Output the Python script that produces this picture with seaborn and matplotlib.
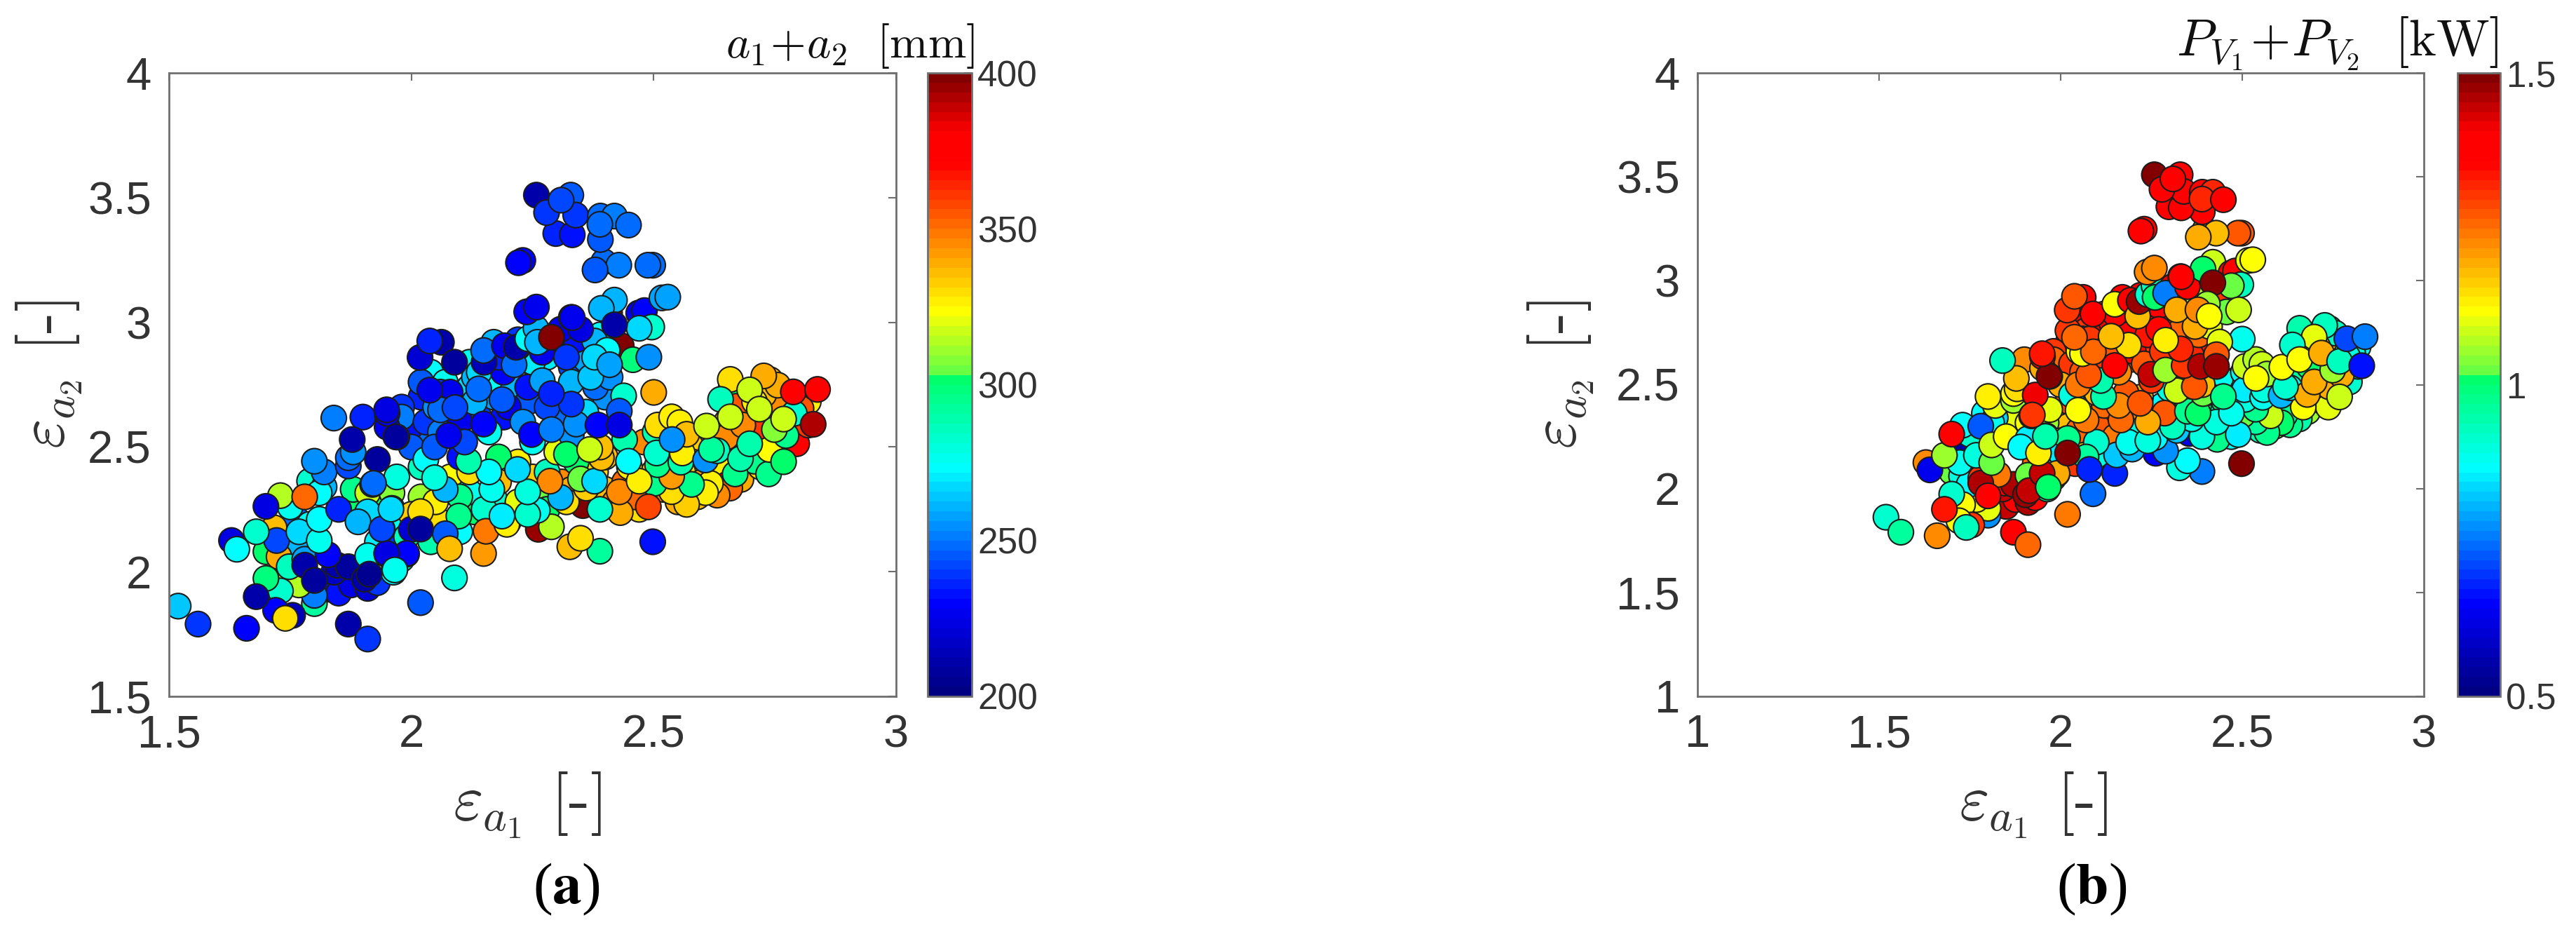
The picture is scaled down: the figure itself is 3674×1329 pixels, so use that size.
#!/usr/bin/env python3
import pandas as pd
import seaborn as sns
import matplotlib
matplotlib.use("Agg")
import matplotlib.pyplot as plt
from matplotlib.cm import ScalarMappable
from matplotlib.colors import LinearSegmentedColormap, Normalize

W, H = 3674, 1329

# same designs in both panels, drawn back to front
eps_a1 = [
    2.02, 2.04, 2.07, 2.09, 2.12, 2.14, 2.17, 2.19, 2.21, 2.24,
    2.26, 2.28, 2.31, 2.33, 2.35, 2.38, 2.40, 2.30, 2.27, 2.22,
    2.12, 2.17, 2.21, 2.02, 2.06, 2.13, 2.00, 2.04, 1.98, 2.09,
    1.98, 2.02, 2.06, 2.10, 2.13, 2.17, 2.20, 2.04, 2.08, 2.12,
    2.24, 2.27, 2.31, 2.36, 2.40, 2.44, 2.47, 2.52, 2.55, 2.59,
    2.64, 2.68, 2.72, 2.75, 2.78, 2.70, 2.65, 2.60, 2.58, 2.54,
    1.93, 1.96, 1.99, 1.98, 1.885, 1.76, 1.72, 1.76, 1.70, 1.79,
    1.88, 1.95, 2.02, 2.05, 2.10, 2.12, 2.15, 2.18, 2.22, 2.25,
    2.28, 2.33, 2.38, 2.42, 2.46, 2.50, 2.45, 2.53, 2.56, 2.60,
    2.63, 2.66, 2.62, 2.68, 2.72, 2.76, 2.70, 2.66, 2.74, 2.62,
    2.68, 2.72, 2.48, 2.44, 2.40, 2.34, 2.28, 2.30, 2.22, 2.18,
    1.98, 2.03, 2.00, 2.08, 2.05, 2.10, 2.13, 2.16, 2.20, 2.14,
    2.19, 2.24, 2.25, 2.23, 2.28, 2.33, 2.36, 2.38, 2.31, 2.27,
    2.36, 2.41, 2.37, 2.34, 2.39, 2.22, 2.18, 2.15, 2.10, 2.16,
    2.25, 2.33, 2.06, 1.90, 1.95, 2.03, 2.10,
    2.655, 2.657, 2.631, 2.617, 2.607, 2.568, 2.537, 2.578, 2.501, 2.537,
    2.508, 2.503, 2.506, 2.556, 2.559, 2.508, 2.537, 2.554, 2.568, 2.65,
    2.795, 2.819, 2.804, 2.819, 2.727, 2.658, 2.756, 2.67, 2.684, 2.727,
    2.79, 2.708, 2.737, 2.668, 2.739, 2.607, 2.631, 2.773, 2.708, 2.698,
    2.679, 2.619, 2.538, 2.609, 2.698, 2.638, 2.658, 2.749, 2.718, 2.768,
    2.768, 2.788, 2.838, 2.829,
    1.83, 1.85, 1.876, 1.91, 1.93, 1.84, 1.847, 1.87, 1.903, 1.80,
    1.80, 1.768, 1.727, 1.748, 1.78, 1.828, 1.73, 1.70, 1.78, 1.80,
    1.519, 1.56, 1.66, 1.87, 1.91, 1.755, 1.72, 1.74, 1.68, 1.629,
    1.64, 1.717, 1.722, 1.68, 1.75, 1.79, 1.82, 1.81, 1.73, 1.70,
    1.78, 1.768, 1.81, 1.81, 1.85, 1.82, 1.87, 1.87, 1.88, 1.80,
    1.878, 1.84, 1.91, 1.96, 1.91, 1.89, 1.96, 1.92, 1.94, 1.97,
    1.93, 1.97, 1.95, 1.91, 1.963, 1.95, 1.99, 2.0, 2.0, 1.913,
    2.019, 2.089, 2.149, 2.498, 2.389, 2.327, 2.349, 2.262, 2.289, 2.154,
    2.197, 2.187, 2.26, 2.24, 2.098, 2.019, 2.07, 2.079, 1.99, 1.949,
    1.939, 2.019, 1.958, 1.966, 2.431, 2.354, 2.32, 2.389, 2.489, 2.361,
    2.429, 2.47, 2.308, 2.286, 2.349, 2.378, 2.24, 2.166, 2.16, 2.07,
    2.219, 2.048, 1.922, 2.118, 2.392, 2.39, 2.32, 2.368, 2.448, 2.50,
    2.11, 2.048, 2.077, 2.248, 2.289, 2.34, 2.385, 2.438, 2.429, 2.429,
    2.27, 2.33, 2.187, 2.149, 2.06, 2.09, 2.038, 2.139, 2.289, 1.968,
    1.949, 2.062, 2.018, 2.038, 2.089, 2.149, 2.192, 2.212, 2.216, 2.24,
    2.257, 2.26, 2.308, 2.33, 2.289, 2.32, 2.378, 2.349, 2.433, 2.409,
    2.419, 2.392, 2.469, 2.481, 2.496, 2.47, 2.419, 2.457, 2.49, 2.404,
    2.378, 2.409, 2.238, 2.258, 2.332, 2.517, 2.529, 2.23, 2.221, 2.498,
    2.488, 2.397, 2.428, 2.379, 2.39, 2.298, 2.332, 2.258, 2.329, 2.339,
    2.279, 2.309, 2.39, 2.419, 2.389, 2.448,
]
eps_a2 = [
    2.70, 2.80, 2.76, 2.66, 2.74, 2.62, 2.70, 2.62, 2.74, 2.68,
    2.78, 2.86, 2.70, 2.82, 2.90, 2.82, 2.70, 2.60, 2.95, 2.93,
    2.84, 2.92, 2.84, 2.76, 2.72, 2.78, 2.56, 2.52, 2.66, 2.56,
    2.20, 2.30, 2.20, 2.16, 2.24, 2.30, 2.20, 2.12, 2.38, 2.32,
    2.24, 2.34, 2.36, 2.30, 2.33, 2.36, 2.25, 2.33, 2.28, 2.30,
    2.38, 2.42, 2.47, 2.52, 2.60, 2.62, 2.60, 2.50, 2.44, 2.56,
    2.12, 2.10, 2.14, 2.05, 2.27, 2.10, 1.98, 2.22, 2.08, 2.19,
    2.33, 2.30, 2.42, 2.28, 2.30, 2.40, 2.25, 2.36, 2.28, 2.38,
    2.25, 2.33, 2.40, 2.28, 2.30, 2.40, 2.42, 2.50, 2.40, 2.36,
    2.44, 2.50, 2.56, 2.66, 2.58, 2.66, 2.72, 2.74, 2.77, 2.34,
    2.37, 2.42, 2.52, 2.53, 2.46, 2.44, 2.40, 2.48, 2.44, 2.46,
    2.62, 2.60, 2.50, 2.72, 2.66, 2.60, 2.68, 2.76, 2.66, 2.80,
    2.80, 2.74, 2.84, 2.60, 2.66, 2.76, 2.64, 2.74, 2.95, 2.88,
    2.85, 2.78, 2.78, 2.93, 2.95, 2.90, 2.86, 2.84, 2.52, 2.56,
    2.52, 2.55, 2.56, 2.62, 2.58, 2.45, 2.46,
    2.354, 2.335, 2.307, 2.354, 2.317, 2.27, 2.321, 2.35, 2.354, 2.382,
    2.429, 2.56, 2.476, 2.439, 2.476, 2.588, 2.621, 2.598, 2.551, 2.54,
    2.513, 2.682, 2.654, 2.588, 2.71, 2.771, 2.748, 2.663, 2.588, 2.785,
    2.635, 2.443, 2.392, 2.392, 2.49, 2.448, 2.485, 2.546, 2.682, 2.729,
    2.453, 2.49, 2.53, 2.584, 2.513, 2.691, 2.621, 2.57, 2.652, 2.612,
    2.441, 2.721, 2.731, 2.591,
    1.93, 1.914, 1.947, 1.933, 1.956, 1.998, 2.026, 2.02, 1.97, 1.872,
    1.905, 1.947, 2.06, 2.02, 2.05, 2.068, 1.923, 1.973, 2.026, 1.965,
    1.862, 1.79, 1.773, 1.79, 1.73, 1.825, 1.845, 1.813, 1.90, 2.125,
    2.09, 2.176, 2.125, 2.16, 2.26, 2.363, 2.34, 2.316, 2.305, 2.262,
    2.30, 2.16, 2.125, 2.21, 2.25, 2.40, 2.424, 2.457, 2.48, 2.443,
    2.53, 2.616, 2.316, 2.316, 2.24, 2.20, 2.254, 2.35, 2.17, 2.38,
    2.45, 2.54, 2.635, 2.064, 1.998, 2.068, 2.07, 2.23, 2.17, 1.99,
    1.876, 1.975, 2.073, 2.12, 2.082, 2.10, 2.134, 2.17, 2.18, 2.162,
    2.19, 2.223, 2.246, 2.23, 2.223, 2.241, 2.152, 2.092, 2.073, 2.073,
    2.171, 2.171, 2.251, 2.007, 2.237, 2.265, 2.28, 2.25, 2.26, 2.335,
    2.32, 2.363, 2.298, 2.363, 2.372, 2.363, 2.32, 2.33, 2.40, 2.33,
    2.41, 2.377, 2.354, 2.443, 2.457, 2.50, 2.471, 2.49, 2.443, 2.719,
    2.52, 2.50, 2.546, 2.55, 2.57, 2.592, 2.588, 2.705, 2.644, 2.588,
    2.766, 2.672, 2.69, 2.592, 2.649, 2.658, 2.728, 2.733, 2.714, 2.541,
    2.649, 2.92, 2.859, 2.925, 2.84, 2.887, 2.906, 2.83, 2.90, 2.934,
    2.976, 2.92, 2.972, 3.02, 2.94, 2.86, 2.925, 2.972, 2.906, 3.037,
    3.089, 3.056, 3.037, 3.047, 2.981, 2.976, 2.99, 2.85, 2.86, 2.888,
    2.86, 2.83, 3.042, 3.061, 3.019, 3.098, 3.101, 3.248, 3.239, 3.229,
    3.229, 3.243, 3.229, 3.21, 3.332, 3.356, 3.351, 3.51, 3.51, 3.43,
    3.44, 3.49, 3.426, 3.426, 3.393, 3.39,
]
a_sum = [
    236, 272, 276, 250, 268, 238, 258, 232, 262, 244,
    250, 270, 232, 242, 275, 262, 255, 248, 228, 240,
    276, 260, 238, 245, 240, 262, 232, 248, 240, 225,
    278, 310, 330, 272, 300, 282, 334, 290, 322, 275,
    272, 305, 345, 320, 336, 352, 330, 345, 340, 335,
    350, 325, 310, 365, 370, 330, 340, 332, 325, 330,
    270, 240, 285, 285, 300, 262, 320, 248, 300, 275,
    296, 300, 285, 325, 295, 330, 282, 335, 320, 332,
    300, 340, 330, 345, 350, 336, 325, 322, 330, 342,
    325, 335, 345, 350, 360, 345, 328, 300, 336, 330,
    340, 330, 345, 290, 335, 300, 285, 320, 328, 300,
    250, 240, 245, 225, 255, 228, 262, 272, 225, 268,
    230, 232, 270, 255, 243, 262, 266, 248, 230, 226,
    258, 256, 265, 232, 272, 226, 235, 215, 272, 275,
    275, 255, 250, 235, 225, 273, 232,
    378, 350, 345, 325, 326, 332, 330, 295, 296, 342,
    294, 288, 283, 290, 326, 330, 328, 328, 335, 345,
    378, 328, 356, 360, 335, 330, 340, 355, 345, 338,
    283, 295, 294, 296, 322, 255, 285, 294, 328, 318,
    288, 291, 255, 317, 290, 285, 318, 307, 318, 318,
    300, 378, 378, 392,
    232, 232, 222, 220, 240, 218, 210, 207, 210, 293,
    252, 315, 338, 287, 258, 229, 282, 298, 210, 208,
    265, 240, 229, 212, 240, 215, 229, 330, 212, 224,
    272, 336, 243, 282, 275, 282, 262, 272, 314, 222,
    353, 266, 276, 273, 236, 252, 243, 248, 254, 256,
    212, 252, 318, 308, 268, 262, 266, 248, 245, 281,
    208, 213, 225, 278, 273, 226, 229, 332, 220, 206,
    244, 280, 342, 233, 293, 335, 329, 396, 314, 348,
    326, 270, 278, 283, 294, 331, 246, 335, 229, 224,
    243, 207, 267, 275, 340, 398, 330, 283, 358, 332,
    345, 328, 260, 346, 306, 268, 280, 277, 273, 262,
    266, 281, 248, 288, 335, 335, 300, 316, 274, 340,
    242, 244, 225, 229, 250, 255, 230, 283, 246, 224,
    258, 240, 246, 229, 248, 242, 228, 248, 235, 208,
    223, 212, 220, 235, 209, 248, 225, 247, 212, 272,
    262, 260, 228, 226, 398, 238, 260, 224, 398, 396,
    260, 262, 228, 230, 282, 266, 210, 298, 254, 272,
    268, 258, 230, 228, 226, 258, 257, 229, 229, 247,
    248, 248, 253, 246, 244, 236, 234, 210, 246, 238,
    240, 242, 248, 252, 248, 248,
]
p_sum = [
    1.30, 1.36, 1.30, 1.24, 1.34, 1.22, 1.40, 1.26, 1.38, 1.30,
    1.42, 1.36, 1.35, 1.30, 1.40, 1.28, 1.34, 1.26, 1.44, 1.42,
    1.30, 1.40, 1.36, 1.30, 1.28, 1.36, 1.16, 1.28, 1.30, 1.24,
    .92, 1.18, 1.15, .90, 1.22, 1.25, 1.05, 1.30, 1.12, 1.22,
    .85, .96, .90, .95, 1.0, .92, .88, 1.02, .95, 1.05,
    1.05, 1.0, 1.08, 1.10, .95, 1.15, 1.05, .92, .95, .90,
    1.25, 1.30, .95, 1.15, 1.12, 1.10, .96, 1.05, 1.02, 1.12,
    1.10, 1.22, 1.28, 1.25, 1.28, 1.25, 1.24, 1.22, .90, .95,
    .88, .90, .98, .98, .92, .96, 1.0, .92, 1.0, 1.02,
    1.05, .95, 1.08, 1.10, 1.12, .94, .96, .94, .92, .98,
    1.05, 1.12, .90, .88, 1.0, .95, .86, .90, 1.2, 1.28,
    1.26, 1.30, 1.20, 1.30, 1.12, 1.30, 1.28, 1.32, 1.35, 1.35,
    1.38, 1.33, 1.40, 1.28, 1.30, 1.25, 1.32, 1.25, 1.40, 1.38,
    1.28, 1.10, 1.20, 1.42, 1.05, 1.40, 1.42, 1.38, 1.25, 1.22,
    1.30, 1.22, 1.28, 1.22, 1.20, .90, 1.18,
    .78, .95, .98, .98, 1.0, .97, .96, 1.08, 1.02, .98,
    .90, .88, .85, .88, .90, 1.08, 1.07, 1.08, 1.05, .96,
    .92, .88, .90, .85, 1.18, .95, .93, .93, 1.0, .93,
    .90, 1.14, 1.10, 1.12, 1.20, .80, .88, 1.20, 1.18, 1.10,
    1.20, .92, 1.12, 1.12, 1.19, .92, 1.12, 1.05, 1.20, .93,
    1.08, .71, .75, .67,
    1.42, 1.44, 1.40, 1.46, 1.35, 1.44, 1.38, 1.46, 1.47, .78,
    1.10, 1.12, .90, .87, 1.30, 1.24, 1.11, .92, 1.46, 1.40,
    .92, .96, 1.23, 1.38, 1.26, 1.30, 1.12, .93, 1.33, 1.23,
    .64, .55, .88, 1.05, .92, .86, .84, .88, .87, 1.40,
    .72, .90, 1.02, 1.08, 1.12, 1.10, 1.05, 1.12, 1.15, 1.13,
    1.18, .93, 1.12, 1.05, .85, .86, .88, 1.10, .95, 1.10,
    1.42, 1.44, 1.40, 1.02, .98, 1.46, 1.30, 1.15, .85, 1.45,
    1.24, .74, .68, 1.49, .76, .90, .87, .65, .78, .82,
    .80, .88, .87, .90, .92, .98, .96, .68, 1.20, 1.45,
    1.13, 1.49, .95, 1.0, .98, .62, .82, .90, .85, .90,
    .90, .88, .93, 1.28, .97, 1.0, 1.20, 1.25, 1.22, 1.24,
    1.28, 1.12, 1.30, .95, 1.02, 1.18, 1.08, 1.27, .97, .88,
    .95, 1.24, 1.28, 1.45, 1.05, 1.30, 1.46, 1.10, 1.28, 1.48,
    1.35, 1.32, 1.15, 1.38, 1.12, 1.25, 1.25, 1.18, 1.13, 1.49,
    1.33, 1.38, 1.31, 1.27, 1.38, 1.12, 1.38, 1.18, 1.48, .92,
    .93, 1.00, 1.42, 1.38, .75, 1.20, 1.08, 1.40, 1.30, .77,
    1.08, 1.00, 1.38, 1.40, .93, 1.02, 1.49, 1.03, 1.09, 1.05,
    1.22, 1.12, 1.23, 1.23, 1.40, 1.10, 1.12, 1.38, 1.38, 1.27,
    1.27, 1.19, 1.18, 1.19, 1.38, 1.38, 1.38, 1.49, 1.39, 1.38,
    1.38, 1.38, 1.38, 1.32, 1.32, 1.38,
]

# colormap, 64 bands as in the original
cmap_stops = [
    (0.0, (0, 0, 130)), (0.145, (0, 0, 255)), (0.366, (0, 255, 255)),
    (0.515, (0, 255, 100)), (0.52, (100, 255, 70)), (0.62, (255, 255, 0)),
    (0.86, (255, 0, 0)), (0.91, (255, 0, 0)), (1.0, (130, 0, 0)),
]
cmap = LinearSegmentedColormap.from_list(
    "jet64", [(t, tuple(c / 255 for c in rgb)) for t, rgb in cmap_stops], N=64
)

df = pd.DataFrame({"e1": eps_a1, "e2": eps_a2, "a": a_sum, "p": p_sum})

SPINE = "#6f6f6f"
TEXT = "#333333"


def px_axes(fig, left, right, top, bottom):
    return fig.add_axes([left / W, 1 - bottom / H, (right - left) / W, (bottom - top) / H])


def panel(fig, box, cbox, hue, norm, xlim, ylim, xticks, yticks, cticks, clabels):
    ax = px_axes(fig, *box)
    sns.scatterplot(data=df, x="e1", y="e2", hue=hue, hue_norm=norm, palette=cmap,
                    legend=False, s=680, edgecolor="#1c1c1c", linewidth=1.5, ax=ax)
    ax.set_xlim(*xlim)
    ax.set_ylim(*ylim)
    ax.set_xticks(xticks)
    ax.set_yticks(yticks)
    ax.set_xticklabels([f"{t:g}" for t in xticks])
    ax.set_yticklabels([f"{t:g}" for t in yticks])
    ax.set_xlabel("")
    ax.set_ylabel("")
    ax.tick_params(direction="in", top=True, right=True, length=8, width=1.5, color=SPINE,
                   labelsize=47, labelcolor=TEXT, pad=18)
    for s in ax.spines.values():
        s.set_color(SPINE)
        s.set_linewidth(2)

    cax = px_axes(fig, *cbox)
    cb = fig.colorbar(ScalarMappable(norm=norm, cmap=cmap), cax=cax)
    cb.set_ticks(cticks)
    cb.set_ticklabels(clabels)
    cax.tick_params(direction="in", length=8, width=1.5, color="#333333",
                    labelsize=37, labelcolor=TEXT, pad=6)
    cb.outline.set_edgecolor(SPINE)
    cb.outline.set_linewidth(2)
    return ax


sns.set_theme(style="white")
plt.rcParams["font.family"] = ["Liberation Sans", "DejaVu Sans"]
plt.rcParams["mathtext.fontset"] = "cm"

fig = plt.figure(figsize=(W / 100, H / 100), dpi=100, facecolor="white")

panel(fig, (241, 1278, 104, 993), (1323, 1386, 104, 993), "a", Normalize(200, 400),
      (1.5, 3), (1.5, 4), [1.5, 2, 2.5, 3], [1.5, 2, 2.5, 3, 3.5, 4],
      [200, 250, 300, 350, 400], ["200", "250", "300", "350", "400"])
panel(fig, (2421, 3457, 104, 993), (3505, 3566, 104, 993), "p", Normalize(0.5, 1.5),
      (1, 3), (1, 4), [1, 1.5, 2, 2.5, 3], [1, 1.5, 2, 2.5, 3, 3.5, 4],
      [0.5, 1, 1.5], ["0.5", "1", "1.5"])

xlab = r"$\varepsilon_{a_1}$ [-]"
ylab = r"$\varepsilon_{a_2}$ [-]"
for cx, lx in [(752, 70), (2900, 2226)]:
    fig.text(cx / W, 1 - 1148 / H, xlab, fontsize=66, family="cmr10", color=TEXT, ha="center", va="center")
    fig.text(lx / W, 1 - 534 / H, ylab, fontsize=66, family="cmr10", color=TEXT, ha="center", va="center",
             rotation=90)

fig.text(1390 / W, 1 - 82 / H, r"$a_1\!+\!a_2\ \ [\mathrm{mm}]$", fontsize=47, color="#111111",
         ha="right", va="baseline")
fig.text(3564 / W, 1 - 80 / H, r"$P_{V_1}\!+\!P_{V_2}\ \ [\mathrm{kW}]$", fontsize=53, color="#111111",
         ha="right", va="baseline")

for cx, s in [(808, r"($\mathbf{a}$)"), (2983, r"($\mathbf{b}$)")]:
    fig.text(cx / W, 1 - 1268 / H, s, fontsize=60, family="Liberation Serif", math_fontfamily="stix",
             color="black", ha="center", va="center")

fig.savefig("out.png", dpi=100)
